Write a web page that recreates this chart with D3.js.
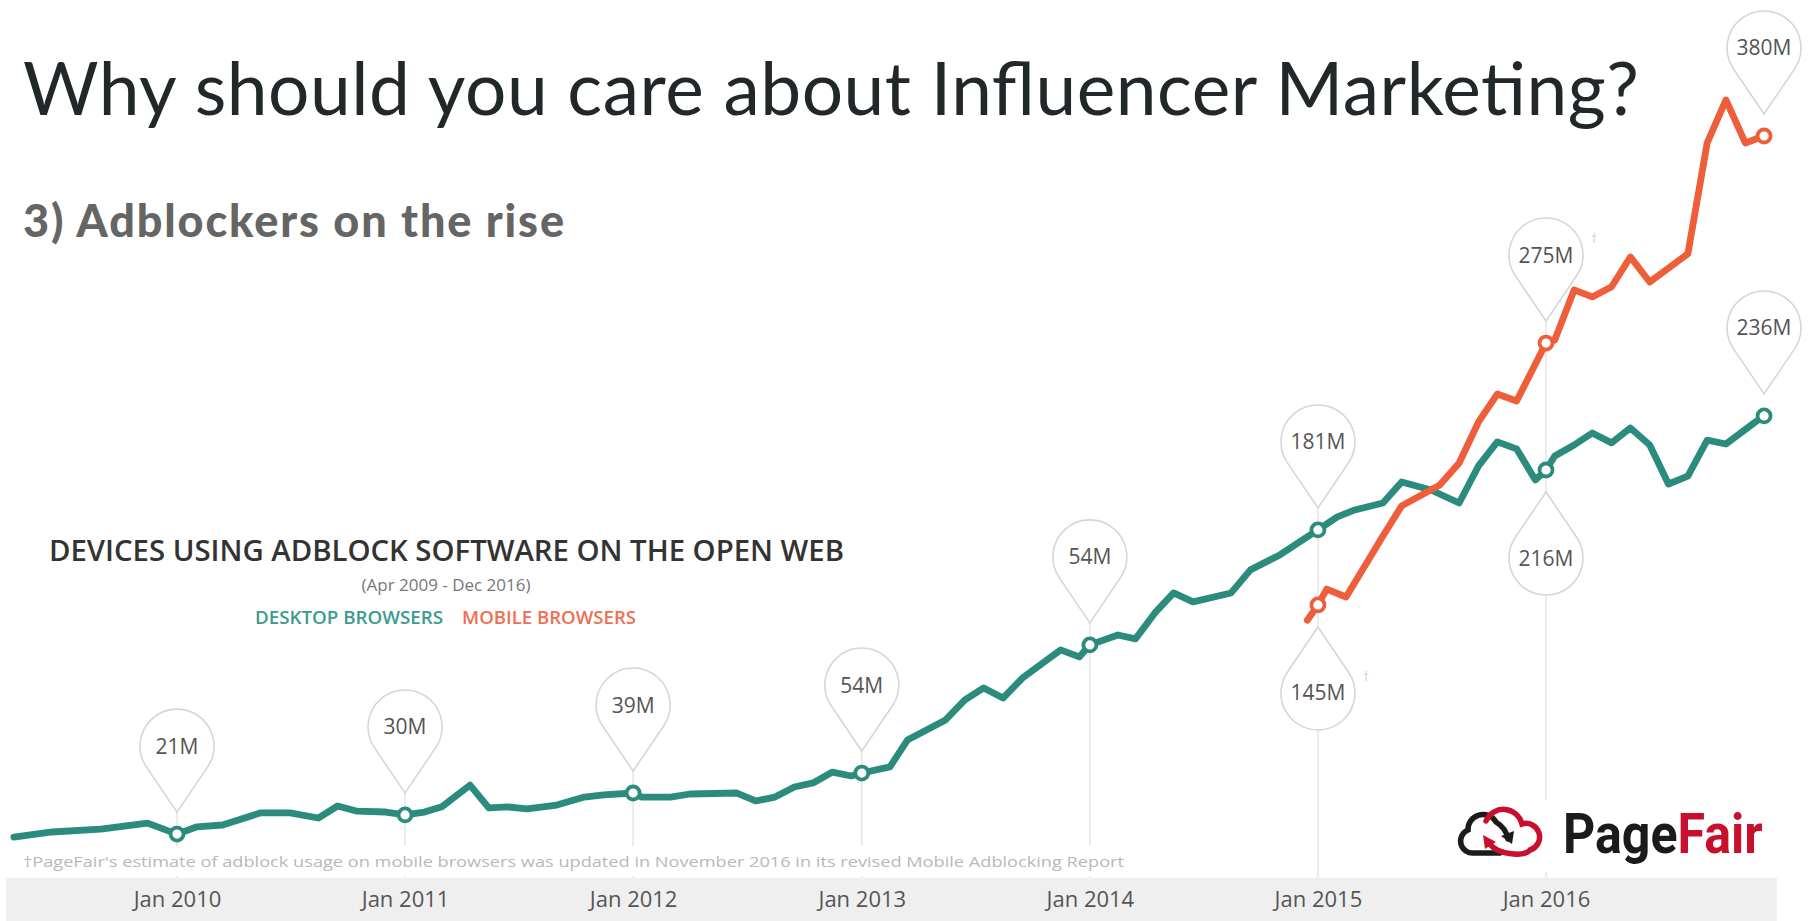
<!DOCTYPE html>
<html>
<head>
<meta charset="utf-8">
<script src="https://cdnjs.cloudflare.com/ajax/libs/d3/7.8.5/d3.min.js"></script>
<style>
  html, body { margin: 0; padding: 0; background: #ffffff; }
  svg { display: block; }
</style>
</head>
<body>
<svg id="chart" width="1812" height="921"></svg>
<script>
// ---------------- DATA ----------------
const pageTitle = "Why should you care about Influencer Marketing?";
const pageSubtitle = "3) Adblockers on the rise";
const chartTitle = "DEVICES USING ADBLOCK SOFTWARE ON THE OPEN WEB";
const chartPeriod = "(Apr 2009 - Dec 2016)";
const seriesNames = ["DESKTOP BROWSERS", "MOBILE BROWSERS"];
const footnote = "\u2020PageFair's estimate of adblock usage on mobile browsers was updated in November 2016 in its revised Mobile Adblocking Report";

const tickDates = ["2010-01-01","2011-01-01","2012-01-01","2013-01-01","2014-01-01","2015-01-01","2016-01-01"];
const tickLabels = ["Jan 2010","Jan 2011","Jan 2012","Jan 2013","Jan 2014","Jan 2015","Jan 2016"];

// Desktop browsers (millions of devices)
const desktopDates = ["2009-04-15","2009-06-15","2009-09-01","2009-11-15",
  "2010-01-01","2010-02-01","2010-03-15","2010-05-15","2010-07-01","2010-08-15","2010-09-15","2010-10-15","2010-12-01",
  "2011-01-01","2011-02-01","2011-03-01","2011-04-15","2011-05-15","2011-06-15","2011-07-15","2011-09-01","2011-10-15","2011-11-15",
  "2012-01-01","2012-01-15","2012-03-01","2012-04-01","2012-06-15","2012-07-15","2012-08-15","2012-09-15","2012-10-15","2012-11-15","2012-12-15",
  "2013-01-01","2013-02-15","2013-03-15","2013-05-15","2013-06-15","2013-07-15","2013-08-15","2013-09-15","2013-11-15","2013-12-15",
  "2014-01-01","2014-02-15","2014-03-15","2014-04-15","2014-05-15","2014-06-15","2014-08-15","2014-09-15","2014-11-01",
  "2015-01-01","2015-02-01","2015-03-01","2015-04-15","2015-05-15","2015-07-01","2015-08-15","2015-09-15","2015-10-15","2015-11-15","2015-12-15",
  "2016-01-01","2016-01-15","2016-02-15","2016-03-15","2016-04-15","2016-05-15","2016-06-15","2016-07-15","2016-08-15","2016-09-15","2016-10-15","2016-12-01","2016-12-15"];
const desktopValues = [18.4,21.0,22.5,25.6,
  19.9,23.6,24.6,30.9,30.9,28.2,34.4,31.8,31.3,
  29.8,31.3,34.0,45.2,33.4,33.9,32.9,34.9,39.0,40.1,
  41.1,39.0,39.0,40.6,41.1,37.0,39.0,44.2,46.3,51.9,49.9,
  51.4,54.6,68.4,78.8,89.1,95.3,90.1,100.4,114.9,111.3,
  117.5,122.6,120.6,134.0,144.3,139.7,144.3,156.2,163.9,
  176.8,183.5,187.1,190.7,201.5,197.4,190.7,209.8,222.2,218.6,202.6,
  207.7,214.9,220.6,226.8,221.7,229.4,220.6,200.5,204.6,223.1,221.1,232.5,235.6];

// Mobile browsers (millions of devices)
const mobileDates = ["2014-12-15","2015-01-01","2015-01-15","2015-02-15","2015-04-15","2015-05-15","2015-07-15","2015-08-15","2015-09-15","2015-10-15","2015-11-15",
  "2016-01-01","2016-01-15","2016-02-15","2016-03-15","2016-04-15","2016-05-15","2016-06-15","2016-08-15","2016-09-15","2016-10-15","2016-11-15","2016-12-15"];
const mobileValues = [130.2,138.1,146.3,142.2,173.7,189.2,200.0,211.3,232.5,246.9,243.3,
  273.2,274.8,300.6,297.0,302.2,317.6,304.7,319.2,376.4,398.6,376.4,380.0];

// Callout pins
const calloutDates  = ["2010-01-01","2011-01-01","2012-01-01","2013-01-01","2014-01-01","2015-01-01","2015-01-01","2016-01-01","2016-01-01","2016-12-15","2016-12-15"];
const calloutSeries = ["desktop","desktop","desktop","desktop","desktop","desktop","mobile","desktop","mobile","desktop","mobile"];
const calloutLabels = ["21M","30M","39M","54M","54M","181M","145M","216M","275M","236M","380M"];
const calloutSides  = ["up","up","up","up","up","up","down","down","up","up","up"];
const calloutDagger = [false,false,false,false,false,false,true,false,true,false,false];

// ---------------- SETUP ----------------
const parse = d3.timeParse("%Y-%m-%d");
const svg = d3.select("#chart");
const W = 1812, H = 921;

const colors = { desktop: "#2b8c7e", mobile: "#ef5e3b" };
const legendColors = ["#3a9c8e", "#f06e52"];

const x = d3.scaleTime()
  .domain([parse("2010-01-01"), parse("2016-01-01")])
  .range([177, 1546]);
const y = d3.scaleLinear().domain([0, 400]).range([872.7, 97.2]);

const desktop = desktopDates.map((d, i) => ({ date: parse(d), value: desktopValues[i] }));
const mobile = mobileDates.map((d, i) => ({ date: parse(d), value: mobileValues[i] }));
const seriesData = { desktop, mobile };

function valueAt(series, dateStr) {
  const t = parse(dateStr).getTime();
  const p = seriesData[series].find(d => d.date.getTime() === t);
  return p ? p.value : null;
}

const bandTop = 878;

// ---------------- AXIS BAND ----------------
svg.append("rect")
  .attr("x", 6).attr("y", bandTop).attr("width", 1771).attr("height", H - bandTop)
  .attr("fill", "#efefef");

// ---------------- GRID LINES (from callouts down to axis band) ----------------
const pinOffset = 88, pinR = 37, pinTip = 66;
tickDates.forEach(td => {
  let top = null;
  calloutDates.forEach((cd, i) => {
    if (cd !== td) return;
    const my = y(valueAt(calloutSeries[i], cd));
    const tipY = calloutSides[i] === "up" ? my - (pinOffset - pinTip) : my;
    top = top === null ? tipY : Math.min(top, tipY);
  });
  if (top === null) return;
  svg.append("line")
    .attr("x1", x(parse(td))).attr("x2", x(parse(td)))
    .attr("y1", top).attr("y2", bandTop)
    .attr("stroke", "#e6e6e6").attr("stroke-width", 1.5);
});

// ---------------- FOOTNOTE (white backing hides grid lines) ----------------
const footG = svg.append("g");
const footBg = footG.append("rect").attr("fill", "#ffffff");
const footText = footG.append("text")
  .attr("x", 23).attr("y", 867)
  .attr("font-family", "'Open Sans', sans-serif").attr("font-size", 15)
  .attr("textLength", 1101).attr("lengthAdjust", "spacingAndGlyphs")
  .attr("fill", "#b8b8b8").text(footnote);
const fb = footText.node().getBBox();
footBg.attr("x", fb.x - 4).attr("y", 846).attr("width", fb.width + 8).attr("height", 30);

// ---------------- PINS ----------------
function pinPath(cx, cy, r, d, dir) {
  // dir = 1: tip below centre; dir = -1: tip above centre
  const py = r * r / d;
  const px = Math.sqrt(r * r - py * py);
  const tipY = cy + dir * d;
  const tY = cy + dir * py;
  const sweep = dir === 1 ? 0 : 1;
  return `M${cx},${tipY} L${cx + px},${tY} A${r},${r} 0 1 ${sweep} ${cx - px},${tY} Z`;
}

const pinG = svg.append("g");
calloutDates.forEach((cd, i) => {
  const cx = x(parse(cd));
  const my = y(valueAt(calloutSeries[i], cd));
  const dir = calloutSides[i] === "up" ? 1 : -1;
  const cy = my - dir * pinOffset;
  pinG.append("path")
    .attr("d", pinPath(cx, cy, pinR, pinTip, dir))
    .attr("fill", "#ffffff").attr("stroke", "#d6d6d6").attr("stroke-width", 1.6);
  pinG.append("text")
    .attr("x", cx).attr("y", cy + 7.5)
    .attr("text-anchor", "middle")
    .attr("font-family", "'Open Sans', sans-serif").attr("font-size", 21)
    .attr("fill", "#555").text(calloutLabels[i]);
  if (calloutDagger[i]) {
    pinG.append("text")
      .attr("x", cx + 45).attr("y", cy - 12)
      .attr("font-family", "'Open Sans', sans-serif").attr("font-size", 12)
      .attr("fill", "#cccccc").text("\u2020");
  }
});

// ---------------- LINES ----------------
const line = d3.line().x(d => x(d.date)).y(d => y(d.value));
["desktop", "mobile"].forEach(k => {
  svg.append("path")
    .datum(seriesData[k])
    .attr("d", line)
    .attr("fill", "none").attr("stroke", colors[k])
    .attr("stroke-width", 6.8).attr("stroke-linejoin", "round").attr("stroke-linecap", "round");
});

// markers
calloutDates.forEach((cd, i) => {
  svg.append("circle")
    .attr("cx", x(parse(cd))).attr("cy", y(valueAt(calloutSeries[i], cd)))
    .attr("r", 6.5).attr("fill", "#fff")
    .attr("stroke", colors[calloutSeries[i]]).attr("stroke-width", 3.8);
});

// ---------------- X AXIS ----------------
const axis = d3.axisBottom(x)
  .tickValues(tickDates.map(parse))
  .tickFormat((d, i) => tickLabels[i])
  .tickSize(0).tickPadding(0);
const axG = svg.append("g").attr("transform", `translate(0,${bandTop})`).call(axis);
axG.select(".domain").remove();
axG.selectAll("text")
  .attr("y", 29).attr("dy", 0)
  .attr("font-family", "'Open Sans', sans-serif").attr("font-size", 22)
  .attr("fill", "#555");

// ---------------- TEXTS ----------------
svg.append("text")
  .attr("x", 23).attr("y", 115)
  .attr("font-family", "Lato, sans-serif").attr("font-weight", 400).attr("font-size", 73)
  .attr("textLength", 1616).attr("lengthAdjust", "spacing")
  .attr("fill", "#22282a").text(pageTitle);

svg.append("text")
  .attr("x", 23).attr("y", 237)
  .attr("font-family", "Lato, sans-serif").attr("font-weight", 900).attr("font-size", 45)
  .attr("textLength", 541).attr("lengthAdjust", "spacing")
  .attr("fill", "#656565").text(pageSubtitle);

svg.append("text")
  .attr("x", 49).attr("y", 561)
  .attr("font-family", "'Open Sans', sans-serif").attr("font-weight", 600).attr("font-size", 29)
  .attr("textLength", 795).attr("lengthAdjust", "spacingAndGlyphs")
  .attr("fill", "#333").text(chartTitle);

svg.append("text")
  .attr("x", 446).attr("y", 591).attr("text-anchor", "middle")
  .attr("font-family", "'Open Sans', sans-serif").attr("font-size", 17)
  .attr("fill", "#777").text(chartPeriod);

svg.append("text")
  .attr("x", 255).attr("y", 624)
  .attr("font-family", "'Open Sans', sans-serif").attr("font-weight", 600).attr("font-size", 18)
  .attr("textLength", 188).attr("lengthAdjust", "spacingAndGlyphs")
  .attr("fill", legendColors[0]).text(seriesNames[0]);
svg.append("text")
  .attr("x", 462).attr("y", 624)
  .attr("font-family", "'Open Sans', sans-serif").attr("font-weight", 600).attr("font-size", 18)
  .attr("textLength", 174).attr("lengthAdjust", "spacingAndGlyphs")
  .attr("fill", legendColors[1]).text(seriesNames[1]);

// ---------------- PAGEFAIR LOGO ----------------
svg.append("rect").attr("x", 1450).attr("y", 800).attr("width", 318).attr("height", 72).attr("fill", "#ffffff");
const logo = svg.append("g").attr("transform", "translate(1456,809)");
logo.append("path")
  .attr("d", "M44,44 L18,44 A12,12 0 0 1 12,21 A15,15 0 0 1 40,13 Q50,19 52,30")
  .attr("fill", "none").attr("stroke", "#1b1b1b").attr("stroke-width", 5.5).attr("stroke-linecap", "round");
logo.append("path").attr("d", "M45,27 L56,35 L58,22 Z").attr("fill", "#1b1b1b");
logo.append("path")
  .attr("d", "M30,12 A19,19 0 0 1 66,15 A13,13 0 0 1 74,41 Q70,46 58,45 Q40,44 33,34")
  .attr("fill", "none").attr("stroke", "#c8102e").attr("stroke-width", 5.5).attr("stroke-linecap", "round");
logo.append("path").attr("d", "M27,26 L29,40 L40,33 Z").attr("fill", "#c8102e");

const logoText = svg.append("text")
  .attr("transform", "translate(1563,853) scale(0.895,1)")
  .attr("x", 0).attr("y", 0)
  .attr("font-family", "'Liberation Sans Narrow', 'Roboto', sans-serif").attr("font-weight", 700).attr("font-size", 56);
logoText.append("tspan").attr("fill", "#1b1b1b").text("Page");
logoText.append("tspan").attr("fill", "#c8102e").text("Fair");
</script>
</body>
</html>
